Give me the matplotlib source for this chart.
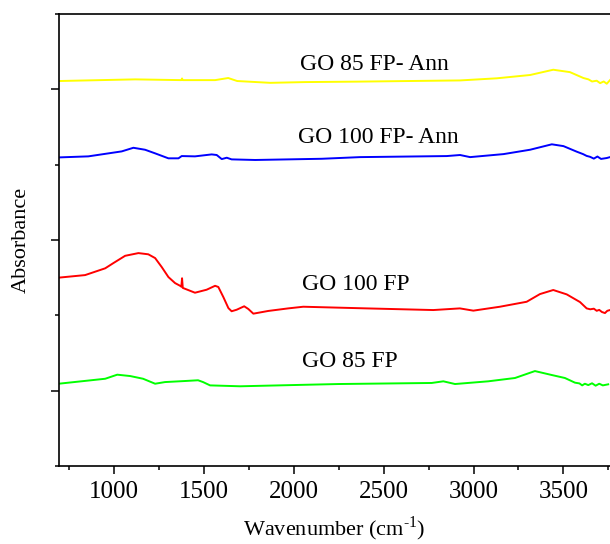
import numpy as np
import matplotlib.pyplot as plt
from matplotlib.ticker import MultipleLocator

plt.rcParams['font.family'] = ['Liberation Serif', 'DejaVu Serif']
plt.rcParams['mathtext.fontset'] = 'custom'
plt.rcParams['mathtext.rm'] = 'Liberation Serif'

# spectra (wavenumber, stacked absorbance a.u.)
wn_85 = [690, 949, 1016, 1088, 1160, 1227, 1282, 1393, 1466, 1494, 1533, 1700,
         2061, 2248, 2767, 2832, 2897, 3082, 3231, 3342, 3435, 3509, 3565,
         3590, 3605, 3620, 3639, 3660, 3680, 3700, 3720, 3750]
ab_85 = [0.546, 0.579, 0.606, 0.597, 0.579, 0.546, 0.557, 0.564, 0.569, 0.557,
         0.535, 0.529, 0.539, 0.544, 0.551, 0.562, 0.544, 0.562, 0.584, 0.630,
         0.604, 0.584, 0.553, 0.548, 0.535, 0.546, 0.537, 0.549, 0.533, 0.546,
         0.535, 0.542]

wn_100 = [690, 837, 949, 995, 1060, 1134, 1189, 1227, 1264, 1301, 1338, 1366,
          1373, 1377, 1381, 1449, 1514, 1561, 1579, 1607, 1635, 1653, 1681,
          1723, 1746, 1774, 1857, 1968, 2052, 2405, 2776, 2924, 2999, 3147,
          3296, 3370, 3444, 3519, 3593, 3630, 3650, 3670, 3686, 3700, 3715,
          3732, 3745, 3760]
ab_100 = [1.250, 1.267, 1.312, 1.347, 1.395, 1.413, 1.405, 1.380, 1.320, 1.254,
          1.214, 1.196, 1.190, 1.246, 1.182, 1.150, 1.170, 1.196, 1.188, 1.121,
          1.048, 1.027, 1.037, 1.060, 1.042, 1.011, 1.029, 1.046, 1.057, 1.046,
          1.035, 1.046, 1.031, 1.057, 1.090, 1.141, 1.168, 1.139, 1.088, 1.046,
          1.040, 1.044, 1.030, 1.036, 1.022, 1.015, 1.030, 1.035]

wn_100a = [690, 855, 1041, 1106, 1171, 1227, 1301, 1357, 1375, 1449, 1542, 1570,
           1598, 1626, 1653, 1784, 2155, 2368, 2851, 2925, 2981, 3167, 3315,
           3436, 3501, 3575, 3610, 3630, 3649, 3670, 3690, 3710, 3742, 3760]
ab_100a = [2.048, 2.055, 2.088, 2.112, 2.099, 2.075, 2.042, 2.042, 2.057, 2.055,
           2.068, 2.064, 2.037, 2.046, 2.035, 2.031, 2.039, 2.050, 2.057, 2.064,
           2.050, 2.070, 2.099, 2.135, 2.123, 2.086, 2.070, 2.058, 2.052, 2.040,
           2.054, 2.038, 2.044, 2.050]

wn_85a = [690, 1116, 1373, 1377, 1381, 1561, 1634, 1684, 1868, 2061, 2350, 2925,
          3129, 3315, 3444, 3537, 3612, 3640, 3660, 3686, 3705, 3725, 3742, 3760]
ab_85a = [2.555, 2.566, 2.561, 2.572, 2.561, 2.561, 2.575, 2.555, 2.543, 2.548,
          2.551, 2.559, 2.573, 2.595, 2.630, 2.614, 2.575, 2.566, 2.552, 2.557,
          2.541, 2.552, 2.537, 2.561]

series = [
    (wn_85, ab_85, '#00ff00', 'GO 85 FP', 2312, 0.657),
    (wn_100, ab_100, '#ff0000', 'GO 100 FP', 2346, 1.168),
    (wn_100a, ab_100a, '#0000ff', 'GO 100 FP- Ann', 2468, 2.143),
    (wn_85a, ab_85a, '#ffff00', 'GO 85 FP- Ann', 2446, 2.628),
]

fig = plt.figure(figsize=(6.10, 5.44), dpi=100)
ax = fig.add_axes([0.0962, 0.1434, 0.9038, 0.8309])

for wn, ab, col, name, tx, ty in series:
    ax.plot(wn, ab, color=col, lw=1.4)
    ax.text(tx, ty, name, ha='center', va='baseline', fontsize=17)

ax.set_xlim(690, 3760)
ax.set_ylim(0, 3)
ax.xaxis.set_major_locator(MultipleLocator(500))
ax.xaxis.set_minor_locator(MultipleLocator(250))
ax.set_yticks([0.5, 1.5, 2.5])
ax.set_yticks([0, 1, 2, 3], minor=True)
ax.set_yticklabels([])
ax.tick_params(which='major', direction='out', length=6, width=1.1, labelsize=18, pad=5)
ax.tick_params(which='minor', direction='out', length=3, width=1.1)
for s in ['left', 'bottom', 'top']:
    ax.spines[s].set_linewidth(1.2)
ax.spines['right'].set_visible(False)

ax.set_xlabel('Wavenumber (cm$^{\\text{-1}}$)', fontsize=16, labelpad=8)
ax.set_ylabel('Absorbance', fontsize=16, labelpad=9)

fig.savefig('out.png', dpi=100)
